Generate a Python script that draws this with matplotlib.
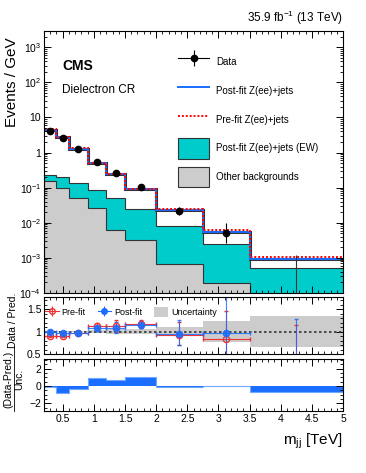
import numpy as np
import matplotlib
matplotlib.use("Agg")
import matplotlib.pyplot as plt
from matplotlib.lines import Line2D
from matplotlib.patches import Patch
from matplotlib.ticker import FixedLocator, MultipleLocator, FuncFormatter, LogLocator, NullFormatter

plt.rcParams['font.family'] = ['Liberation Sans', 'DejaVu Sans']
plt.rcParams['mathtext.fontset'] = 'custom'
plt.rcParams['mathtext.rm'] = 'Liberation Sans'
plt.rcParams['mathtext.it'] = 'Liberation Sans:italic'
plt.rcParams['axes.unicode_minus'] = True

# binning (TeV)
edges = [0.2, 0.4, 0.6, 0.9, 1.2, 1.5, 2.0, 2.75, 3.5, 5.0]

# main panel, events / GeV
data = [4.2, 2.6, 1.25, 0.55, 0.27, 0.107, 0.022, 0.0052, 0.0]
data_up = [0.25, 0.15, 0.07, 0.03, 0.02, 0.01, 0.0055, 0.0047, 0.0012]
data_dn = [0.25, 0.15, 0.07, 0.03, 0.02, 0.01, 0.0055, 0.0025, 0.0]
postfit = [4.5, 2.7, 1.3, 0.52, 0.25, 0.093, 0.023, 0.0053, 0.00093]
prefit = [4.6, 2.8, 1.32, 0.49, 0.24, 0.091, 0.024, 0.0063, 0.00105]
ew_top = [0.23, 0.20, 0.14, 0.087, 0.051, 0.025, 0.0081, 0.0025, 0.00052]
other = [0.15, 0.10, 0.051, 0.027, 0.0063, 0.0033, 0.00068, 0.00019, 0.00005]

# ratio panel
r_pre = [0.91, 0.91, 0.96, 1.13, 1.13, 1.17, 0.92, 0.83, 0.0]
r_pre_up = [0.03, 0.03, 0.03, 0.05, 0.13, 0.08, 0.30, 0.62, 1.15]
r_pre_dn = [0.03, 0.03, 0.03, 0.05, 0.13, 0.08, 0.22, 0.45, 0.0]
r_post = [1.0, 0.96, 0.97, 1.07, 1.09, 1.15, 0.95, 0.97, 0.0]
r_post_up = [0.03, 0.03, 0.03, 0.05, 0.12, 0.08, 0.30, 0.90, 1.27]
r_post_dn = [0.03, 0.03, 0.03, 0.05, 0.12, 0.08, 0.25, 0.60, 0.0]
unc = [0.02, 0.02, 0.02, 0.04, 0.05, 0.06, 0.11, 0.23, 0.34]

# pull panel
pulls = [-0.1, -0.85, -0.35, 0.9, 0.7, 1.0, -0.15, -0.05, -0.75]

edges = np.array(edges)
centers = 0.5 * (edges[1:] + edges[:-1])
halfw = 0.5 * (edges[1:] - edges[:-1])

W, H = 366, 473
fig = plt.figure(figsize=(W / 100, H / 100), dpi=100)
L, R = 44 / W, 343 / W

def fy(px):
    return 1 - px / H

ax = fig.add_axes([L, fy(293), R - L, fy(31) - fy(293)])
axr = fig.add_axes([L, fy(354), R - L, fy(297) - fy(354)])
axp = fig.add_axes([L, fy(411), R - L, fy(359) - fy(411)])

teal = '#00cccc'
grey = '#cccccc'
blue = '#1a6dff'
edgec = '#333333'

# stacked backgrounds
ax.stairs(ew_top, edges, baseline=1e-6, fill=True, color=teal)
ax.stairs(ew_top, edges, baseline=1e-6, color=edgec, lw=0.8)
ax.stairs(other, edges, baseline=1e-6, fill=True, color=grey)
ax.stairs(other, edges, baseline=1e-6, color=edgec, lw=0.8)
ax.stairs(postfit, edges, baseline=None, color=edgec, lw=2.2)
ax.stairs(postfit, edges, baseline=None, color=blue, lw=1.4)
ax.stairs(prefit, edges, baseline=None, color='red', lw=1.4, ls=(0, (1, 1)))

d = np.array(data)
ok = d > 0
ax.errorbar(centers[ok], d[ok], yerr=[np.array(data_dn)[ok], np.array(data_up)[ok]],
            fmt='o', color='black', ms=4.5, lw=0.8, capsize=0)
ax.vlines(centers[~ok], 1e-4, (d + np.array(data_up))[~ok], color=edgec, lw=0.8)

ax.set_yscale('log')
ax.set_ylim(1e-4, 2900)
ax.set_xlim(0.2, 5)

def logfmt(v, pos):
    if v == 1:
        return '1'
    if v == 10:
        return '10'
    return r'$10^{%d}$' % int(round(np.log10(v)))

ax.yaxis.set_major_locator(LogLocator(base=10, numticks=20))
ax.yaxis.set_major_formatter(FuncFormatter(logfmt))
ax.yaxis.set_minor_locator(LogLocator(base=10, subs=np.arange(2, 10), numticks=20))
ax.yaxis.set_minor_formatter(NullFormatter())

# ratio panel
up = np.array([1 + u for u in unc])
dn = np.array([1 - u for u in unc])
axr.stairs(up, edges, baseline=dn, fill=True, color=grey)
axr.axhline(1, color='#333333', ls=(0, (1.5, 1.5)), lw=1.2)
axr.errorbar(centers, r_pre, xerr=halfw, yerr=[r_pre_dn, r_pre_up], fmt='o',
             color='#ee3333', mfc='none', mew=1.0, ms=4.5, lw=0.8, capsize=1.2)
axr.errorbar(centers, r_post, xerr=halfw, yerr=[r_post_dn, r_post_up], fmt='o',
             color=blue, ms=4.5, lw=0.8, capsize=1.2, alpha=0.85)
axr.set_ylim(0.5, 1.77)
axr.set_xlim(0.2, 5)
axr.yaxis.set_major_locator(FixedLocator([0.5, 1, 1.5]))
axr.yaxis.set_major_formatter(FuncFormatter(lambda v, p: '%g' % v))
axr.yaxis.set_minor_locator(MultipleLocator(0.1))

hpre = (Line2D([], [], color='#ee3333', marker='o', mfc='none', ms=4, lw=0.8),
        Line2D([], [], color='#ee3333', marker='|', ms=7, mew=0.8, ls='none'))
hpost = (Line2D([], [], color=blue, marker='o', ms=4, lw=0.8),
         Line2D([], [], color=blue, marker='|', ms=7, mew=0.8, ls='none'))
hunc = Patch(facecolor=grey, edgecolor='none')
axr.legend([hpre, hpost, hunc], ['Pre-fit', 'Post-fit', 'Uncertainty'], ncol=3,
           loc='upper left', bbox_to_anchor=(45 / W, fy(307)), bbox_transform=fig.transFigure,
           frameon=False, fontsize=6.5, handlelength=1.5, handleheight=1.3, handletextpad=0.35,
           columnspacing=1.3, borderpad=0, borderaxespad=0)

# pull panel
axp.stairs(pulls, edges, baseline=0, fill=True, color=blue)
axp.stairs(pulls, edges, baseline=0, color='#6fa8ff', lw=0.8)
axp.set_ylim(-2.9, 3.1)
axp.set_xlim(0.2, 5)
axp.yaxis.set_major_locator(FixedLocator([-2, 0, 2]))
axp.yaxis.set_minor_locator(MultipleLocator(0.5))
axp.xaxis.set_major_formatter(FuncFormatter(lambda v, p: '%g' % v))

for a in (ax, axr, axp):
    a.xaxis.set_major_locator(MultipleLocator(0.5))
    a.xaxis.set_minor_locator(MultipleLocator(0.1))
    a.tick_params(which='both', direction='in', top=True, right=True, labelsize=7.5, pad=2)
    a.tick_params(which='major', length=5, width=0.7)
    a.tick_params(which='minor', length=2.5, width=0.6)
    for s in a.spines.values():
        s.set_linewidth(0.8)
ax.tick_params(labelbottom=False)
axr.tick_params(labelbottom=False)

# legend
hdata = (Line2D([], [], color='black', marker='o', ms=4.5, lw=0.8),
         Line2D([], [], color='black', marker='|', ms=12, mew=0.8, ls='none'))
handles = [hdata,
           Line2D([], [], color=blue, lw=1.4),
           Line2D([], [], color='red', lw=1.4, ls=(0, (1, 1))),
           Patch(facecolor=teal, edgecolor=edgec, lw=0.8),
           Patch(facecolor=grey, edgecolor=edgec, lw=0.8)]
labels = ['Data', 'Post-fit Z(ee)+jets', 'Pre-fit Z(ee)+jets',
          'Post-fit Z(ee)+jets (EW)', 'Other backgrounds']
ax.legend(handles, labels, loc='upper left', bbox_to_anchor=(178 / W, fy(52)),
          bbox_transform=fig.transFigure, frameon=False, fontsize=7,
          handlelength=3.2, handleheight=2.8, labelspacing=0.9, handletextpad=0.75,
          borderpad=0, borderaxespad=0)

# texts
fig.text(R, fy(18), r'35.9 fb$^{-1}$ (13 TeV)', ha='right', va='center', fontsize=8.5)
fig.text(62 / W, fy(66), 'CMS', ha='left', va='center', fontsize=10, fontweight='bold')
fig.text(62 / W, fy(90), 'Dielectron CR', ha='left', va='center', fontsize=8.5)
fig.text(12 / W, fy(82), 'Events / GeV', rotation=90, ha='center', va='center', fontsize=11)
fig.text(13 / W, fy(320), 'Data / Pred.', rotation=90, ha='center', va='center', fontsize=7.5)
fig.text(8 / W, fy(379), '(Data-Pred.)', rotation=90, ha='center', va='center', fontsize=7.5)
fig.text(19 / W, fy(379), 'Unc.', rotation=90, ha='center', va='center', fontsize=7.5)
fig.add_artist(Line2D([13.5 / W, 13.5 / W], [fy(411), fy(346)], color='black', lw=0.6,
                      transform=fig.transFigure))
fig.text(R, fy(441), r'm$_{\rm jj}$ [TeV]', ha='right', va='center', fontsize=11)

fig.savefig('out.png', dpi=100)
